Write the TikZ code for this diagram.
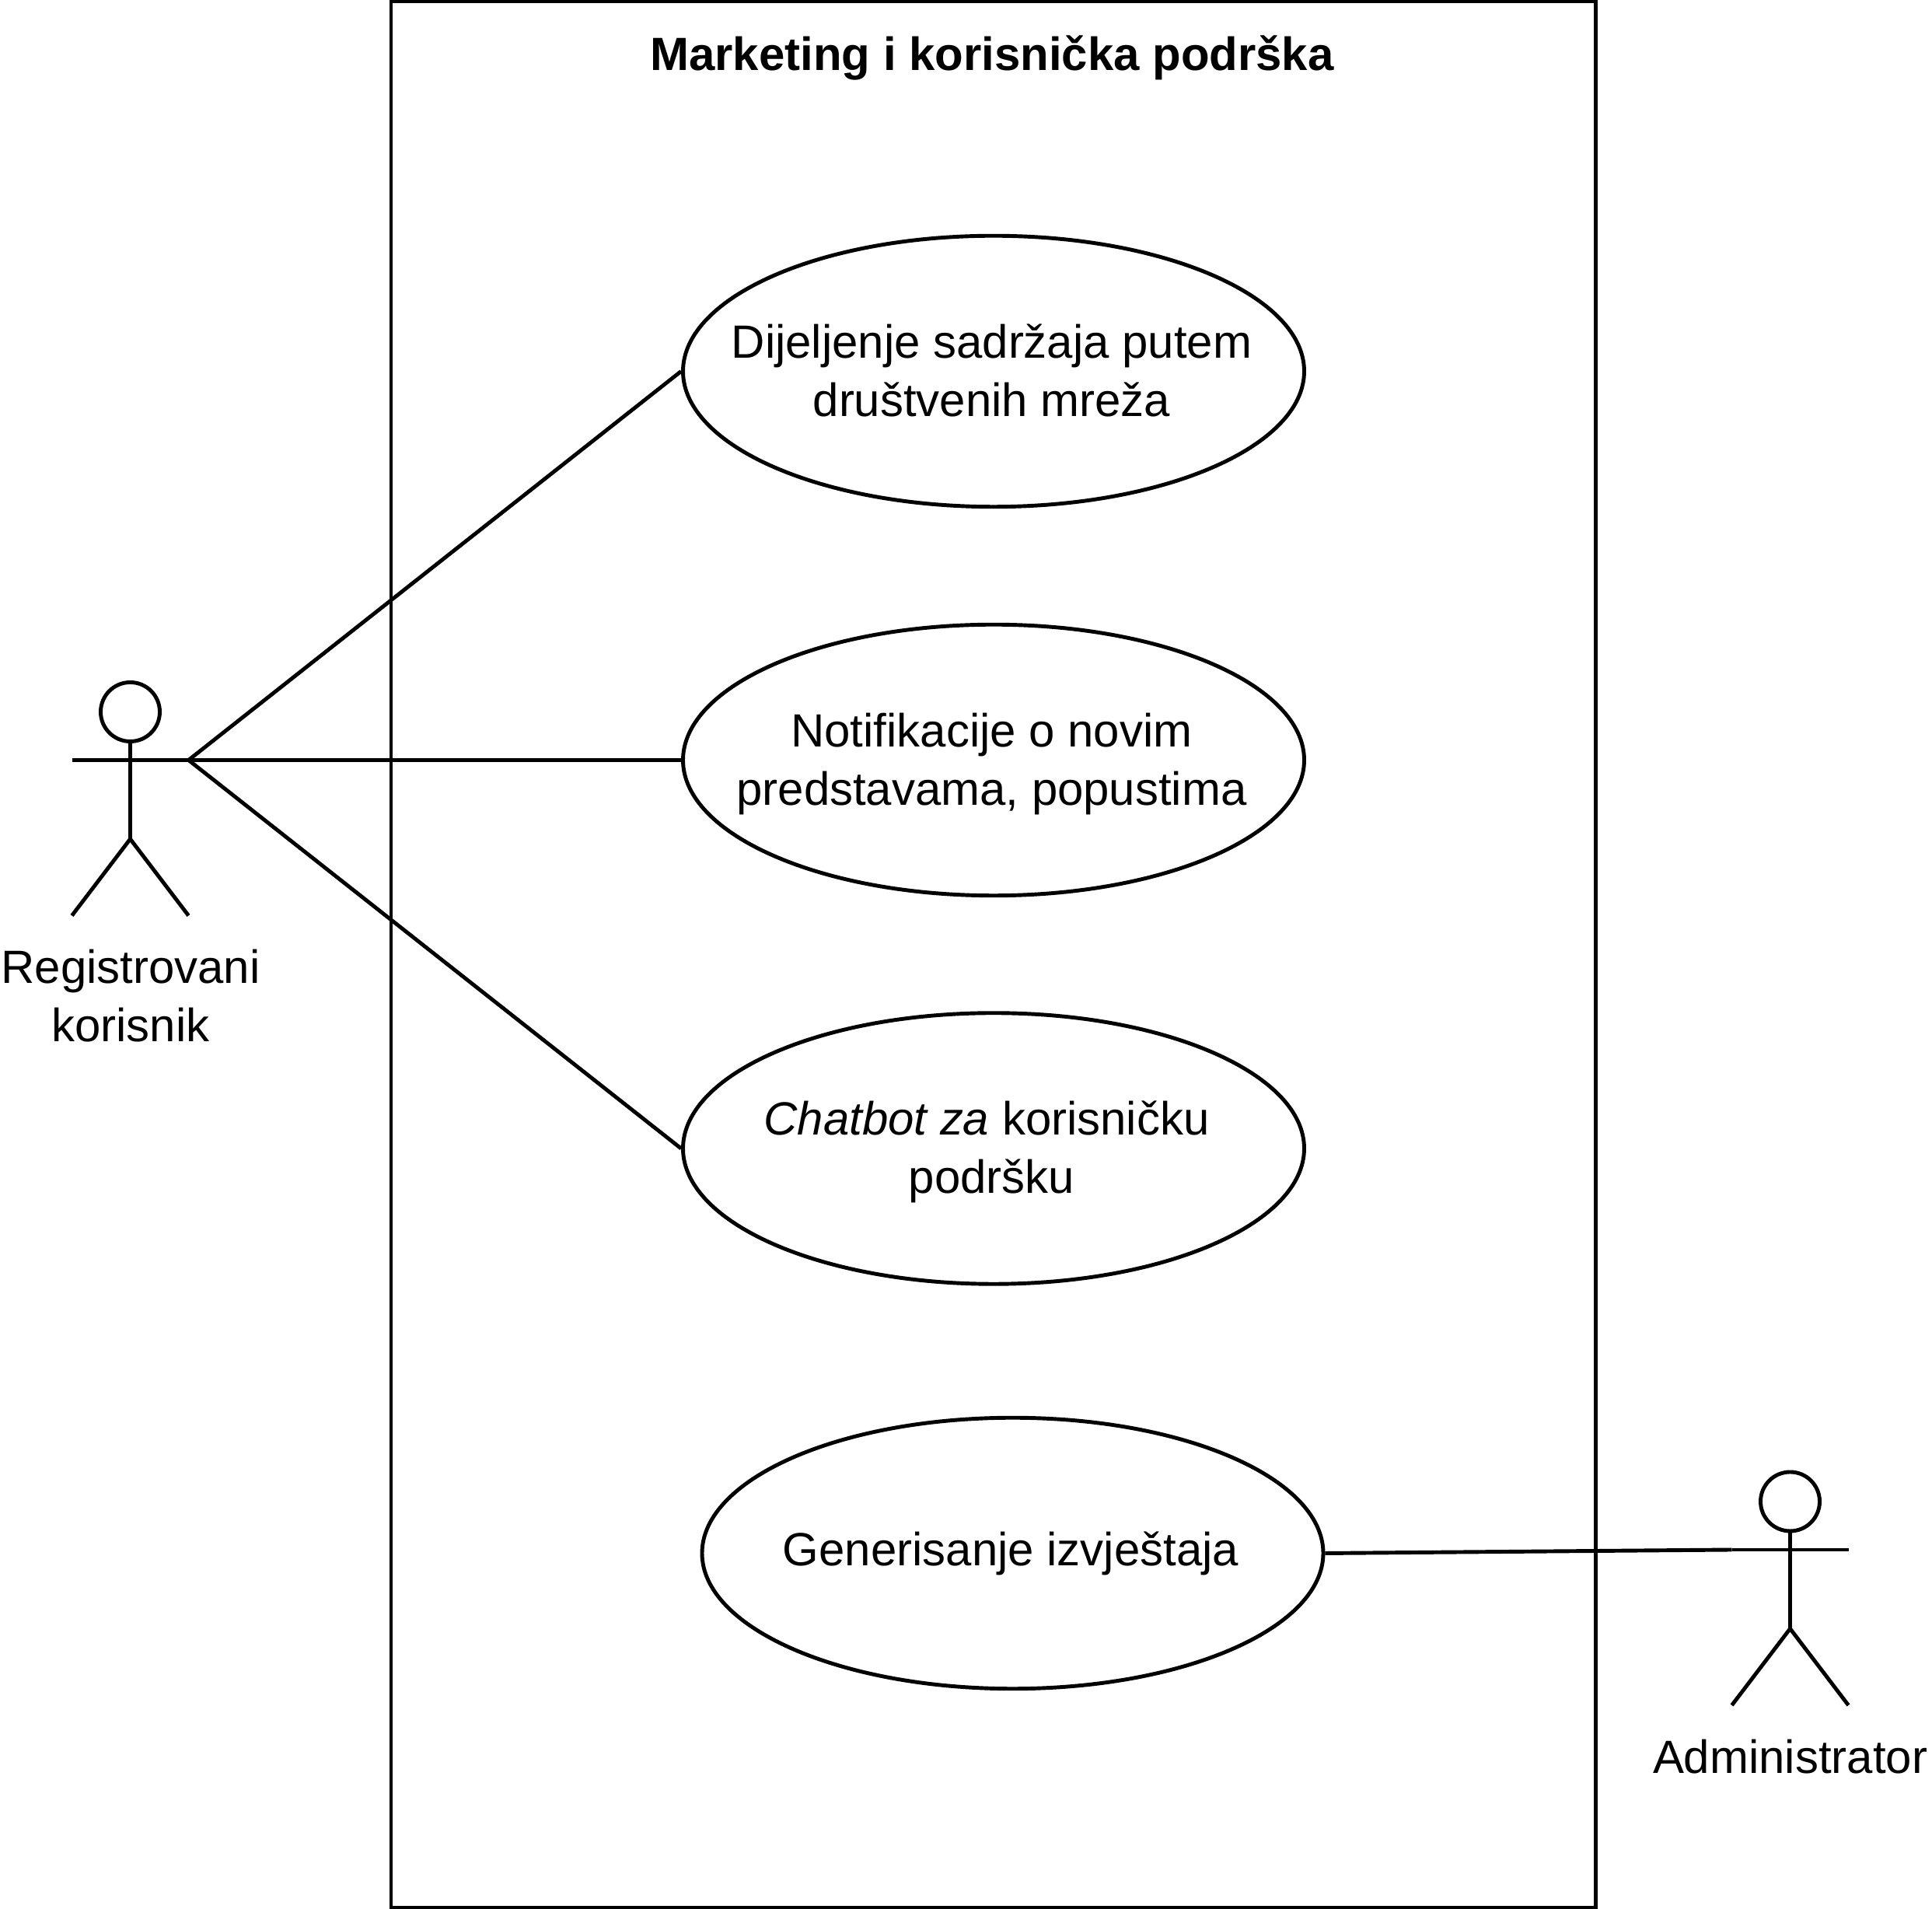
\documentclass[tikz,border=0pt]{standalone}
\usepackage{fontspec}
\setmainfont{Liberation Sans}
\usetikzlibrary{shapes.geometric}
\tikzset{
    usecase/.style={draw, ellipse, line width=2.8pt, minimum width=15.98cm, minimum height=6.97cm, inner sep=0pt},
    casetext/.style={align=center, font=\fontsize{34.1}{42.7}\selectfont},
    assoc/.style={line width=2.8pt},
}
% one actor, placed by the middle of its arms
\newcommand{\umlactor}[2]{
    \draw[assoc] (#1, #2+1.24) circle (0.76);
    \draw[assoc] (#1, #2+0.48) -- (#1, #2-2.03);
    \draw[assoc] (#1-1.5, #2) -- (#1+1.5, #2);
    \draw[assoc] (#1-1.5, #2-4.0) -- (#1, #2-2.03) -- (#1+1.5, #2-4.0);
}
\begin{document}
\begin{tikzpicture}
    \useasboundingbox (0,0) rectangle (49.7,49.1);
    % System boundary
    \draw[assoc] (10.06,0.04) rectangle (41.05,49.06);
    \node[font=\bfseries\fontsize{34.1}{42.7}\selectfont] (title) at (25.52,47.6) {Marketing i korisnička podrška};
    % Use cases
    \node[usecase] (dijeljenje) at (25.56,39.55) {};
    \node[casetext] (dijeljenjetext) at ([xshift=-0.05cm,yshift=0.02cm]dijeljenje) {Dijeljenje sadržaja putem\\društvenih mreža};
    \node[usecase] (notifikacije) at (25.56,29.55) {};
    \node[casetext] (notifikacijetext) at ([xshift=-0.05cm,yshift=-0.11cm]notifikacije) {Notifikacije o novim\\predstavama, popustima};
    \node[usecase] (chatbot) at (25.56,19.56) {};
    \node[casetext] (chatbottext) at ([xshift=-0.05cm,yshift=-0.09cm]chatbot) {\textit{Chatbot za} korisničku\hspace*{0.26cm}\\podršku};
    \node[usecase] (generisanje) at (26.05,9.15) {};
    \node[casetext] (generisanjetext) at ([xshift=-0.05cm]generisanje) {Generisanje izvještaja};
    % Actors
    \umlactor{3.35}{29.55}
    \coordinate (registrovani) at (4.85,29.55);
    \node[casetext] (registrovaniname) at (3.36,23.48) {Registrovani\\korisnik};
    \umlactor{46.05}{9.24}
    \coordinate (administrator) at (44.55,9.24);
    \node[casetext] (administratorname) at (46.05,3.92) {Administrator};
    % Associations
    \draw[assoc] (registrovani) -- (dijeljenje.west);
    \draw[assoc] (registrovani) -- (notifikacije.west);
    \draw[assoc] (registrovani) -- (chatbot.west);
    \draw[assoc] (generisanje.east) -- (administrator);
\end{tikzpicture}
\end{document}
